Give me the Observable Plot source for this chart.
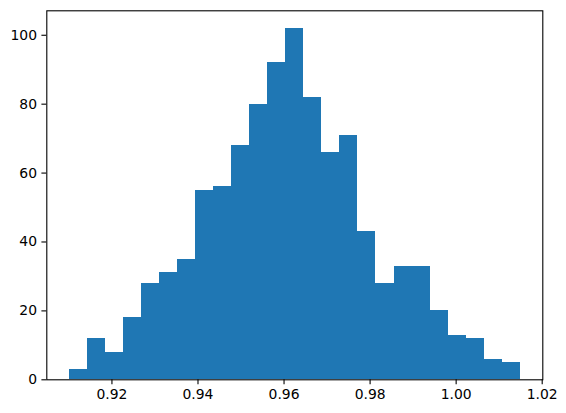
<!DOCTYPE html>
<html>
<head>
<meta charset="utf-8">
<script src="https://cdn.jsdelivr.net/npm/d3@7"></script>
<script src="https://cdn.jsdelivr.net/npm/@observablehq/plot@0.6"></script>
<style>
  html, body { margin: 0; padding: 0; background: #fff; }
</style>
</head>
<body>
<div id="chart"></div>
<script>
// Histogram bin counts (25 equal-width bins)
const counts = [3, 12, 8, 18, 28, 31, 35, 55, 56, 68, 80, 92, 102, 82, 66, 71, 43, 28, 33, 33, 20, 13, 12, 6, 5];
const binStart = 0.9101;
const binEnd = 1.0149;
const xTicks = [0.92, 0.94, 0.96, 0.98, 1.00, 1.02];
const yTicks = [0, 20, 40, 60, 80, 100];

const binWidth = (binEnd - binStart) / counts.length;
const bins = counts.map((c, i) => ({
  x1: binStart + i * binWidth,
  x2: binStart + (i + 1) * binWidth,
  count: c
}));

const xPad = (binEnd - binStart) * 0.05;
const yMax = d3.max(counts) * 1.05;

const chart = Plot.plot({
  width: 566,
  height: 413,
  marginLeft: 46.3,
  marginRight: 23.7,
  marginTop: 10.3,
  marginBottom: 33.7,
  style: {fontFamily: "DejaVu Sans", fontSize: "13.9px", color: "black", background: "white"},
  x: {domain: [binStart - xPad, binEnd + xPad]},
  y: {domain: [0, yMax]},
  marks: [
    Plot.rect(bins, {x1: "x1", x2: "x2", y1: 0, y2: "count", fill: "#1f77b4", inset: 0, shapeRendering: "crispEdges"}),
    Plot.axisX({ticks: xTicks, tickFormat: d3.format(".2f"), tickSize: 4.9, tickPadding: 4, strokeWidth: 1.1, label: null, fontSize: 13.9, fill: "black"}),
    Plot.axisY({ticks: yTicks, tickFormat: d3.format("d"), tickSize: 4.9, tickPadding: 4.9, strokeWidth: 1.1, label: null, fontSize: 13.9, fill: "black"}),
    Plot.frame({stroke: "black", strokeWidth: 1.1})
  ]
});
document.getElementById("chart").appendChild(chart);
</script>
</body>
</html>
